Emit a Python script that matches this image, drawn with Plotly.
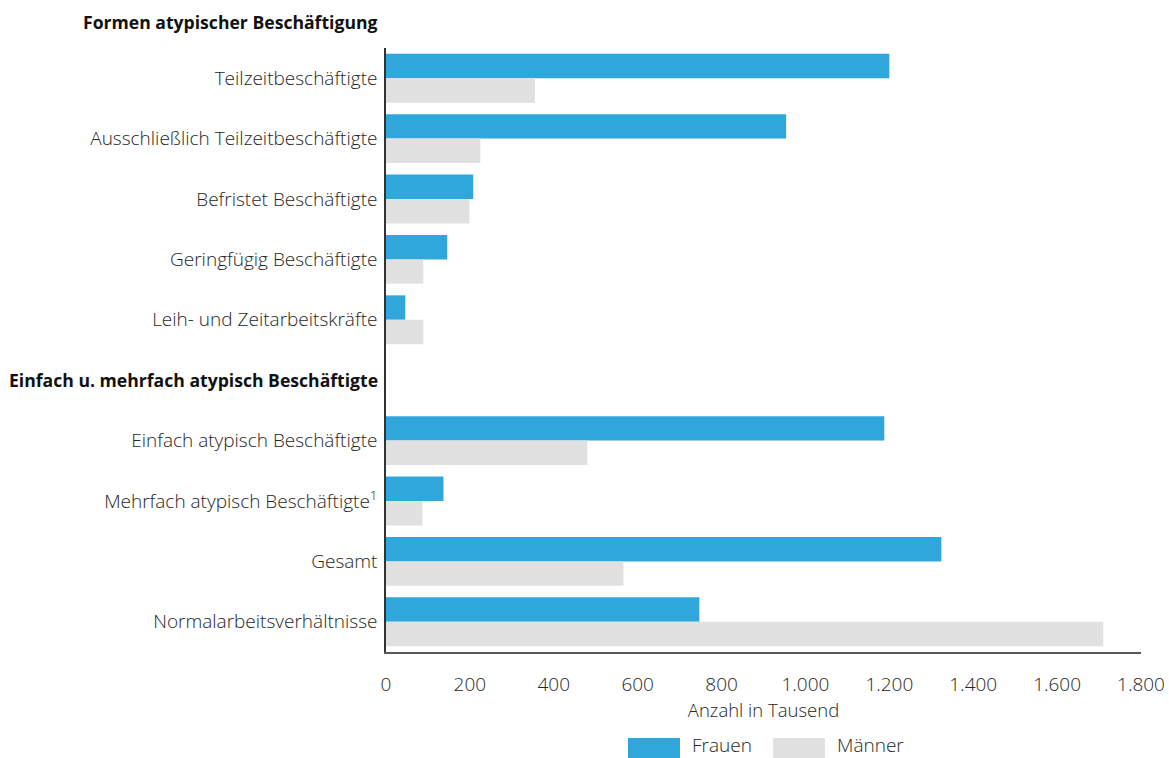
import plotly.graph_objects as go

header1 = "Formen atypischer Beschäftigung"
header2 = "Einfach u. mehrfach atypisch Beschäftigte"
categories = [
    "Teilzeitbeschäftigte",
    "Ausschließlich Teilzeitbeschäftigte",
    "Befristet Beschäftigte",
    "Geringfügig Beschäftigte",
    "Leih- und Zeitarbeitskräfte",
    header2,
    "Einfach atypisch Beschäftigte",
    "Mehrfach atypisch Beschäftigte<sup>1</sup>",
    "Gesamt",
    "Normalarbeitsverhältnisse",
]
frauen = [1200, 954, 208, 146, 46, None, 1188, 137, 1324, 747]
maenner = [355, 225, 199, 89, 89, None, 480, 87, 566, 1710]
tick_vals = [0, 200, 400, 600, 800, 1000, 1200, 1400, 1600, 1800]
tick_text = ["0", "200", "400", "600", "800", "1.000", "1.200", "1.400", "1.600", "1.800"]

C_F = "#2FA7DB"
C_M = "#E1E1E1"
FONT = "Open Sans"
TXT = "#262626"
FS = 19
FSB = 17.6

W, H = 1169, 758
ML, MR, MT, MB = 386, 28, 48, 106
PW, PH = W - ML - MR, H - MT - MB

fig = go.Figure()
fig.add_trace(go.Bar(y=categories, x=frauen, orientation="h", name="Frauen",
                     marker=dict(color=C_F, line=dict(width=0)), showlegend=False))
fig.add_trace(go.Bar(y=categories, x=maenner, orientation="h", name="Männer",
                     marker=dict(color=C_M, line=dict(width=0)), showlegend=False))

fig.update_layout(
    width=W, height=H,
    margin=dict(l=ML, r=MR, t=MT, b=MB, autoexpand=False),
    paper_bgcolor="white", plot_bgcolor="white",
    barmode="group", bargap=0.19, bargroupgap=0,
    font=dict(family=FONT, size=FS, color=TXT, weight=300),
)
y_ticktext = ["" if c == header2 else c for c in categories]
fig.update_yaxes(
    type="category", categoryorder="array", categoryarray=categories,
    tickvals=categories, ticktext=y_ticktext, automargin=False,
    autorange="reversed", showline=True, linecolor="#333333", linewidth=1.5,
    showgrid=False, zeroline=False, ticks="", ticklabelstandoff=3,
    tickfont=dict(family=FONT, size=FS, color=TXT, weight=300),
)
fig.update_xaxes(
    range=[0, 1800], tickvals=tick_vals, ticktext=tick_text, automargin=False,
    showline=True, linecolor="#595959", linewidth=2, showgrid=False, zeroline=False,
    ticks="", ticklabelstandoff=14,
    tickfont=dict(family=FONT, size=FS, color=TXT, weight=300),
    title=dict(text="Anzahl in Tausend", font=dict(family=FONT, size=18.5, color=TXT, weight=300), standoff=3),
)

fig.add_annotation(text="<b>" + header1 + "</b>", xref="paper", yref="paper",
                   x=0, y=1, xanchor="right", yanchor="middle", xshift=-6, yshift=MT - 22,
                   showarrow=False, font=dict(family=FONT, size=FSB, color="#111111"))
fig.add_annotation(text="<b>" + header2 + "</b>", xref="paper", yref="y",
                   x=0, y=header2, xanchor="right", yanchor="middle", xshift=-6,
                   showarrow=False, font=dict(family=FONT, size=FSB, color="#111111"))

# legend drawn manually below the axis (positions in page pixels)
legend_items = [("Frauen", C_F, 628), ("Männer", C_M, 773)]
for name, color, x0 in legend_items:
    fig.add_shape(type="rect", xref="paper", yref="paper",
                  x0=(x0 - ML) / PW, x1=(x0 + 52 - ML) / PW,
                  y0=-(H - (H - MB)) / PH, y1=-(738 - (H - MB)) / PH,
                  fillcolor=color, line=dict(width=0))
    fig.add_annotation(text=name, xref="paper", yref="paper",
                       x=(x0 + 62 - ML) / PW, y=-(745 - (H - MB)) / PH,
                       xanchor="left", yanchor="middle", showarrow=False,
                       font=dict(family=FONT, size=FS, color=TXT, weight=300))

fig.write_html("out.html", config={"displayModeBar": False},
               post_script="document.body.style.margin='0';document.body.style.overflow='hidden';")
